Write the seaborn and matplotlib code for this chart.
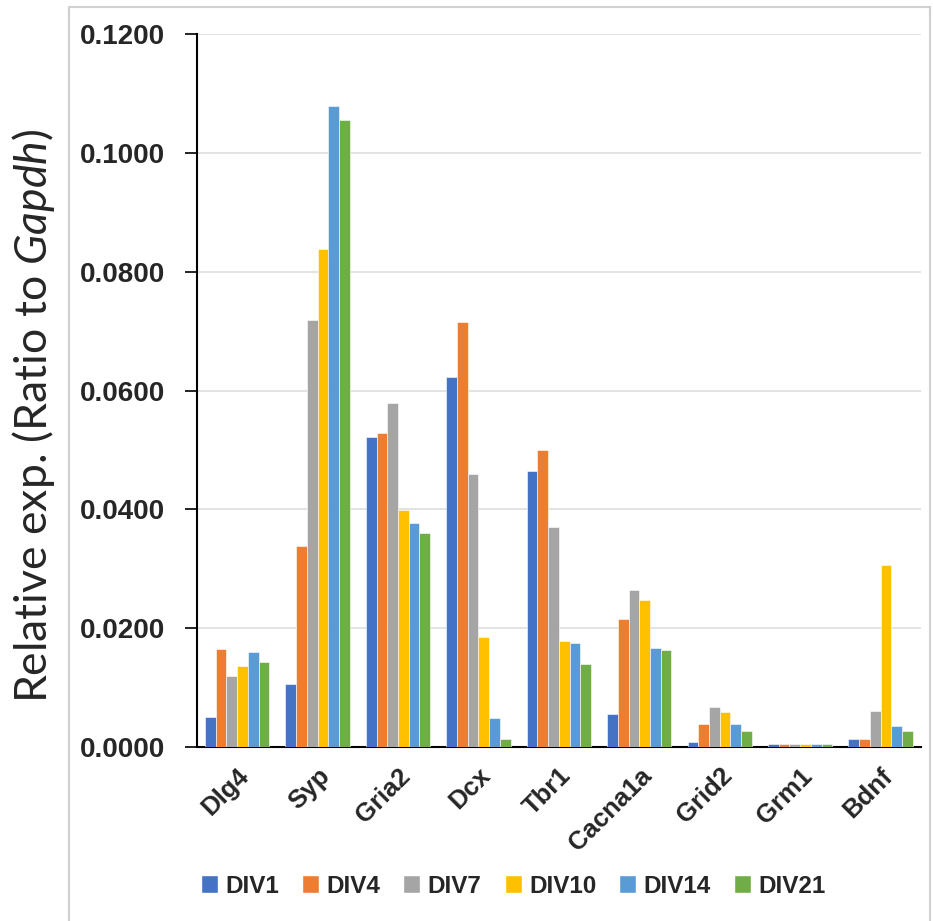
import pandas as pd
import numpy as np
import seaborn as sns
import matplotlib.pyplot as plt
from matplotlib.patches import Patch, Rectangle

# genes on the x axis
genes = ["Dlg4", "Syp", "Gria2", "Dcx", "Tbr1", "Cacna1a", "Grid2", "Grm1", "Bdnf"]

# relative expression (ratio to Gapdh), one list per time point
div1 = [0.0051, 0.0106, 0.0521, 0.0623, 0.0465, 0.0055, 0.0008, 0.0005, 0.0014]
div4 = [0.0165, 0.0339, 0.0528, 0.0715, 0.0500, 0.0215, 0.0039, 0.0005, 0.0014]
div7 = [0.0120, 0.0718, 0.0579, 0.0459, 0.0370, 0.0264, 0.0067, 0.0005, 0.0061]
div10 = [0.0137, 0.0838, 0.0399, 0.0185, 0.0178, 0.0248, 0.0058, 0.0005, 0.0307]
div14 = [0.0159, 0.1079, 0.0377, 0.0049, 0.0175, 0.0166, 0.0039, 0.0005, 0.0036]
div21 = [0.0143, 0.1056, 0.0360, 0.0014, 0.0140, 0.0163, 0.0026, 0.0005, 0.0026]

series_names = ["DIV1", "DIV4", "DIV7", "DIV10", "DIV14", "DIV21"]
colors = ["#4472C4", "#ED7D31", "#A5A5A5", "#FFC000", "#5B9BD5", "#70AD47"]

# long-form table for seaborn
rows = []
for name, vals in zip(series_names, [div1, div4, div7, div10, div14, div21]):
    for g, v in zip(genes, vals):
        rows.append({"gene": g, "div": name, "value": v})
df = pd.DataFrame(rows)

sns.set_style("white")
plt.rcParams['font.family'] = ['Liberation Sans', 'DejaVu Sans']
plt.rcParams['mathtext.fontset'] = 'custom'
plt.rcParams['mathtext.rm'] = 'Lato'
plt.rcParams['mathtext.it'] = 'Lato:italic'

fig = plt.figure(figsize=(9.33, 9.21), dpi=100)
ax = fig.add_axes([0.211, 0.189, 0.776, 0.774])

sns.barplot(data=df, x="gene", y="value", hue="div", order=genes,
            hue_order=series_names, palette=colors, saturation=1, width=0.8,
            edgecolor="white", linewidth=0.4, ax=ax, legend=False)
for bar in ax.patches:
    bar.set_zorder(3)

ax.set_ylim(0, 0.12)
ax.set_xlim(-0.5, len(genes) - 0.5)
ax.set_yticks(np.arange(0, 0.1201, 0.02))
ax.set_yticklabels([f"{t:.4f}" for t in np.arange(0, 0.1201, 0.02)],
                   fontsize=20, fontweight="bold")
ax.yaxis.grid(True, color="#e0e0e0", linewidth=1.3, zorder=0)
ax.set_axisbelow(True)

# category boundary ticks on the x axis
ax.set_xticks(np.arange(len(genes)))
ax.set_xticklabels(genes, rotation=45, ha="right", rotation_mode="anchor",
                   fontsize=18.5, fontweight="bold")
ax.set_xticks(np.arange(-0.5, len(genes)), minor=True)
ax.tick_params(axis="x", which="major", length=0, pad=12)
ax.tick_params(axis="x", which="minor", length=8, width=1.5, direction="out", color="black")
ax.tick_params(axis="y", length=9, width=1.2, direction="out", color="black", pad=14, left=True)

for side in ["top", "right"]:
    ax.spines[side].set_visible(False)
for side in ["left", "bottom"]:
    ax.spines[side].set_color("black")
    ax.spines[side].set_linewidth(1.5)
    ax.spines[side].set_zorder(2)

ax.set_xlabel("")
ax.set_ylabel("")
fig.text(0.036, 0.548, r"Relative exp. (Ratio to $Gapdh$)", rotation=90,
         ha="center", va="center", fontsize=32, family="Lato")

# legend with small squares at the bottom
handles = [Patch(facecolor=c, edgecolor="white") for c in colors]
fig.legend(handles, series_names, loc="center", bbox_to_anchor=(0.55, 0.038),
           ncol=6, frameon=False, handlelength=0.7, handleheight=0.7,
           handletextpad=0.3, columnspacing=0.95,
           prop={"weight": "bold", "size": 17.5})

# thin grey chart-area border
fig.patches.append(Rectangle((0.074, -0.05), 0.923, 1.042, transform=fig.transFigure,
                             fill=False, edgecolor="#d0d0d0", linewidth=1.5))

plt.savefig("out.png", dpi=100)
